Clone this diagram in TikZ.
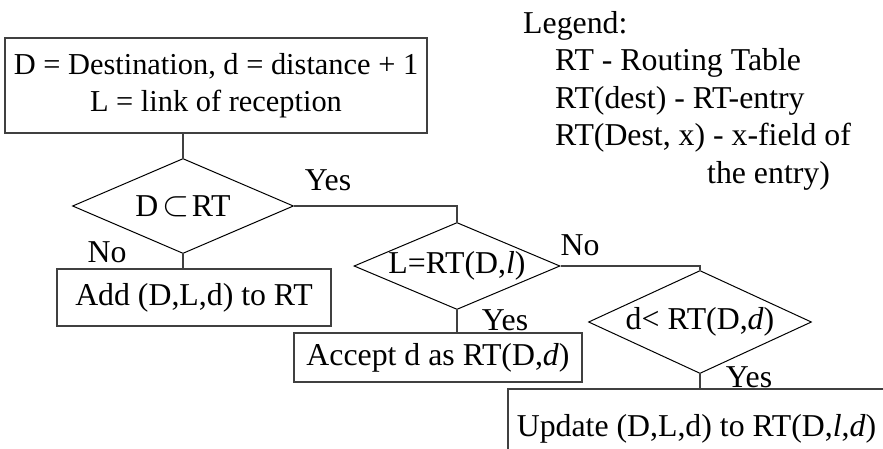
\documentclass[tikz,border=0pt]{standalone}
\usepackage{fontspec}
\setmainfont{Liberation Serif}
\usetikzlibrary{shapes.geometric}

\tikzset{
  box/.style={draw=black!75, line width=1.5pt, inner sep=0pt, align=center},
  decision/.style={diamond, draw, line width=1pt, shape aspect=2.3, inner sep=-4pt},
  lbl/.style={anchor=base, inner sep=0pt},
  conn/.style={draw=black!75, line width=1.3pt},
  txt/.style={font=\fontsize{31.8}{37.5}\selectfont}
}

\begin{document}
\begin{tikzpicture}[x=1pt, y=-1pt, txt]
  \useasboundingbox (0,0) rectangle (883,448);
  \clip (0,0) rectangle (883,448);

  \node[box, minimum width=422pt, minimum height=95pt, font=\fontsize{30.4}{37}\selectfont] (info) at (216,85.5)
    {D = Destination, d = distance + 1\\L = link of reception};

  \node[decision, minimum width=221pt, minimum height=95pt] (inRT) at (183,206)
    {D\hspace{0.12em}\raisebox{0.02em}{\scalebox{1.4}{$\subset$}}\hspace{0.08em}RT};
  \node[decision, minimum width=206pt, minimum height=87pt] (sameL) at (457,266) {L=RT(D,\textit{l})};
  \node[decision, minimum width=223pt, minimum height=103pt] (shorter) at (700,322) {d< RT(D,\textit{d})};

  \node[box, minimum width=274pt, minimum height=57pt] (addRT) at (194,297.5) {Add (D,L,d) to RT};
  \node[box, minimum width=288pt, minimum height=49pt] (accept) at (438,357.5) {Accept d as RT(D,\textit{d})};
  \node[box, minimum width=377pt, minimum height=80pt] (update) at (696.5,429) {Update (D,L,d) to RT(D,\textit{l},\textit{d})};

  \draw[conn] (inRT.north |- info.south) -- (inRT.north);
  \draw[conn] (inRT.east) -| (sameL.north);
  \draw[conn] (inRT.south) -- (inRT.south |- addRT.north);
  \draw[conn] (sameL.east) -| (shorter.north);
  \draw[conn] (sameL.south) -- (sameL.south |- accept.north);
  \draw[conn] (shorter.south) -- (shorter.south |- update.north);

  \node[lbl] (yesIn) at (328,190) {Yes};
  \node[lbl] (noIn) at (107,262) {No};
  \node[lbl] (noLink) at (580,255) {No};
  \node[lbl] (yesLink) at (505,330) {Yes};
  \node[lbl] (yesShort) at (749,387) {Yes};

  \node[anchor=north west, inner sep=0pt, align=left] (legend) at (523,11)
    {Legend:\\
     \hspace*{32pt}RT - Routing Table\\
     \hspace*{32pt}RT(dest) - RT-entry\\
     \hspace*{32pt}RT(Dest, x) - x-field of\\
     \hspace*{184pt}the entry)};
\end{tikzpicture}
\end{document}
